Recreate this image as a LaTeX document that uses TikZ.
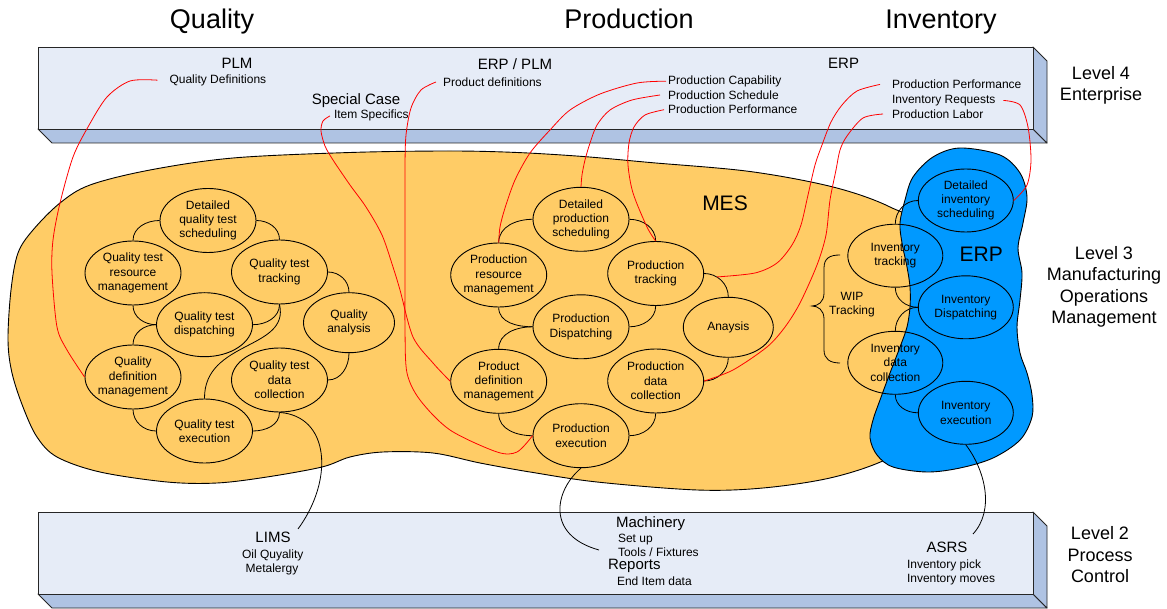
\documentclass[tikz,border=0pt]{standalone}
\usepackage{fontspec}
\setmainfont{Liberation Sans}
\usetikzlibrary{shapes.geometric}
\definecolor{barface}{HTML}{E6ECF7}
\definecolor{barshade}{HTML}{AFC3E3}
\definecolor{mesfill}{HTML}{FFCC66}
\definecolor{erpfill}{HTML}{0099FF}
\definecolor{linkred}{HTML}{FF0000}
\begin{document}
\begin{tikzpicture}[x=1pt,y=-1pt,
  txt/.style={inner sep=0pt, outer sep=0pt},
  headtxt/.style={txt, font=\fontsize{27}{32}\selectfont, anchor=base},
  midtxt/.style={txt, font=\fontsize{15}{18}\selectfont},
  smalltxt/.style={txt, font=\fontsize{12}{14.3}\selectfont},
  lvltxt/.style={txt, font=\fontsize{18}{21.5}\selectfont, align=center},
  bigtxt/.style={txt, font=\fontsize{21}{25}\selectfont, anchor=base},
  taskel/.style={ellipse, draw=black, line width=0.9pt, minimum width=96pt, minimum height=64pt, inner sep=0pt},
  invel/.style={taskel, minimum width=95pt, minimum height=63pt},
  tasktext/.style={txt, font=\fontsize{12}{14.3}\selectfont, align=center},
  tie/.style={draw=black, line width=0.8pt},
  redlink/.style={draw=linkred, line width=0.8pt},
  barfront/.style={fill=barface, draw=black!85, line width=0.9pt},
  barshadow/.style={fill=barshade, draw=black!85, line width=0.9pt, line join=round},
  blob/.style={draw=black, line width=0.9pt}
]
\useasboundingbox (0,0) rectangle (1167,609);

% ---- level bars ----
\draw[barshadow] (38,129) -- (52,143) -- (1047,143) -- (1033,129) -- cycle;
\draw[barshadow] (1033,47) -- (1047,61) -- (1047,143) -- (1033,129) -- cycle;
\draw[barfront] (38,47) rectangle (1033,129);
\draw[barshadow] (38,594) -- (52,608) -- (1047,608) -- (1033,594) -- cycle;
\draw[barshadow] (1033,512) -- (1047,526) -- (1047,608) -- (1033,594) -- cycle;
\draw[barfront] (38,512) rectangle (1033,594);

% ---- column headings ----
\node[headtxt] (hq) at (212,29) {Quality};
\node[headtxt] (hp) at (629,29) {Production};
\node[headtxt] (hi) at (941,29) {Inventory};

% ---- level names ----
\node[lvltxt] (lv4) at (1101,85.4) {Level 4\\Enterprise};
\node[lvltxt] (lv3) at (1104,287) {Level 3\\Manufacturing\\Operations\\Management};
\node[lvltxt] (lv2) at (1100,555) {Level 2\\Process\\Control};

% ---- MES and ERP regions ----
\draw[blob, fill=mesfill] plot[smooth cycle, tension=0.55] coordinates {
  (150,170) (233,158) (350,152.5) (450,151) (517,152.5) (583,156.5) (650,162.5)
  (750,171.5) (833,187) (890,207) (930,235) (945,330) (935,430) (885,460)
  (830,478) (763,488) (697,490) (597,482) (530,472) (480,463) (433,453)
  (383,452) (350,457) (322,467) (267,477) (217,483) (167,482) (100,472)
  (57,457) (37,437) (23,407) (12,373) (8,340) (11,290) (18,253) (33,230)
  (60,203) (90,185)};
\draw[blob, fill=erpfill] plot[smooth cycle, tension=0.55] coordinates {
  (960,148) (1000,155) (1020,173) (1027,197) (1023,223) (1018,248) (1022,273)
  (1020,300) (1017,327) (1020,353) (1027,373) (1032,395) (1032,417) (1020,440)
  (993,458) (960,468) (927,472) (893,467) (877,455) (870,438) (873,420)
  (880,400) (890,373) (900,347) (907,327) (910,307) (910,287) (907,267)
  (902,243) (900,223) (905,200) (913,177) (933,157)};
\node[bigtxt] (mes) at (725,210.8) {MES};
\node[bigtxt] (erp) at (981.3,261.7) {ERP};

% ---- quality functions ----
\node[taskel] (qds) at (208,220.5) {};
\node[tasktext] (qds-t) at (qds.center) {Detailed\\quality test\\scheduling};
\node[taskel] (qrm) at (133,273) {};
\node[tasktext] (qrm-t) at (qrm.center) {Quality test\\resource\\management};
\node[taskel] (qtt) at (279.5,272) {};
\node[tasktext] (qtt-t) at (qtt.center) {Quality test\\tracking};
\node[taskel] (qtd) at (204.5,324.7) {};
\node[tasktext] (qtd-t) at (qtd.center) {Quality test\\dispatching};
\node[taskel, minimum width=91pt, minimum height=60pt] (qan) at (349,322.7) {};
\node[tasktext] (qan-t) at (qan.center) {Quality\\analysis};
\node[taskel] (qdm) at (133,377) {};
\node[tasktext] (qdm-t) at (qdm.center) {Quality\\definition\\management};
\node[taskel] (qdc) at (279.5,380) {};
\node[tasktext] (qdc-t) at (qdc.center) {Quality test\\data\\collection};
\node[taskel] (qte) at (204.5,431) {};
\node[tasktext] (qte-t) at (qte.center) {Quality test\\execution};

% ---- production functions ----
\node[taskel] (pds) at (581,219.3) {};
\node[tasktext] (pds-t) at (pds.center) {Detailed\\production\\scheduling};
\node[taskel] (prm) at (498.7,275) {};
\node[tasktext] (prm-t) at (prm.center) {Production\\resource\\management};
\node[taskel] (ptr) at (655.7,273.5) {};
\node[tasktext] (ptr-t) at (ptr.center) {Production\\tracking};
\node[taskel] (pdi) at (581,326.8) {};
\node[tasktext] (pdi-t) at (pdi.center) {Production\\Dispatching};
\node[taskel, minimum width=90pt, minimum height=60pt] (pan) at (728.3,327.3) {};
\node[tasktext] (pan-t) at (pan.center) {Anaysis};
\node[taskel] (pdm) at (498.7,381.3) {};
\node[tasktext] (pdm-t) at (pdm.center) {Product\\definition\\management};
\node[taskel] (pdc) at (655.7,381) {};
\node[tasktext] (pdc-t) at (pdc.center) {Production\\data\\collection};
\node[taskel] (pex) at (581,435.7) {};
\node[tasktext] (pex-t) at (pex.center) {Production\\execution};

% ---- inventory functions ----
\node[invel] (ids) at (965.8,200.5) {};
\node[tasktext] (ids-t) at (ids.center) {Detailed\\inventory\\scheduling};
\node[invel] (itr) at (895.3,255.7) {};
\node[tasktext] (itr-t) at (itr.center) {Inventory\\tracking};
\node[invel] (idi) at (965.8,307.3) {};
\node[tasktext] (idi-t) at (idi.center) {Inventory\\Dispatching};
\node[invel] (idc) at (895.3,362.8) {};
\node[tasktext] (idc-t) at (idc.center) {Inventory\\data\\collection};
\node[invel] (iex) at (965.8,412.8) {};
\node[tasktext] (iex-t) at (iex.center) {Inventory\\execution};

% WIP tracking brace
\draw[line width=0.8pt] (840,255) .. controls (830,255) and (824,258) .. (824,268) -- (824,293)
  .. controls (824,302) and (818,306) .. (812,306)
  .. controls (818,306) and (824,310) .. (824,319) -- (824,350)
  .. controls (824,359) and (830,363) .. (840,363);
\node[smalltxt, align=center] (wip) at (852,304.5) {WIP\\Tracking};

% ---- level 4 systems ----
\node[midtxt, anchor=base] (plm) at (237,68.4) {PLM};
\node[smalltxt, anchor=base west] (qdefs) at (169.5,83.3) {Quality Definitions};
\node[midtxt, anchor=base] (erpplm) at (515,70) {ERP / PLM};
\node[smalltxt, anchor=base west] (pdefs) at (443,86.3) {Product definitions};
\node[midtxt, anchor=base] (spcase) at (356,105) {Special Case};
\node[smalltxt, anchor=base west] (itspec) at (334,119) {Item Specifics};
\node[midtxt, anchor=base] (erptop) at (843.6,68.3) {ERP};
\node[smalltxt, anchor=base west] (pcap) at (668,84.3) {Production Capability};
\node[smalltxt, anchor=base west] (psched) at (668,99.3) {Production Schedule};
\node[smalltxt, anchor=base west] (pperf) at (668,114) {Production Performance};
\node[smalltxt, anchor=base west] (pperfb) at (892,88.7) {Production Performance};
\node[smalltxt, anchor=base west] (invreq) at (892,103.3) {Inventory Requests};
\node[smalltxt, anchor=base west] (plabor) at (892,118.3) {Production Labor};

% ---- level 2 systems ----
\node[midtxt, anchor=base] (lims) at (273,542.3) {LIMS};
\node[smalltxt, anchor=base] (oilq) at (272.7,558.3) {Oil Quyality};
\node[smalltxt, anchor=base] (metal) at (272,572.7) {Metalergy};
\node[midtxt, anchor=base west] (mach) at (616,527.3) {Machinery};
\node[smalltxt, anchor=base west] (setup) at (618,542) {Set up};
\node[smalltxt, anchor=base west] (tools) at (618,556.7) {Tools / Fixtures};
\node[midtxt, anchor=base west] (reports) at (608,569.3) {Reports};
\node[smalltxt, anchor=base west] (enditem) at (617,585) {End Item data};
\node[midtxt, anchor=base] (asrs) at (947,552.7) {ASRS};
\node[smalltxt, anchor=base west] (invpick) at (907,568.3) {Inventory pick};
\node[smalltxt, anchor=base west] (invmove) at (907,582.7) {Inventory moves};

% free ends of the level 2 links
\coordinate (limsend) at (298,529);
\coordinate (machend) at (599,550);
\coordinate (asrsend) at (973,534);

% ---- links between quality functions ----
\draw[tie] (qds.west) to[out=180,in=90] (qrm.north);
\draw[tie] (qds.east) to[out=0,in=90] (qtt.north);
\draw[tie] (qtt.east) to[out=0,in=90] (qan.north);
\draw[tie] (qrm.south) to[out=-90,in=180] (qtd.west);
\draw[tie] (qtd.west) to[out=180,in=90] (qdm.north);
\draw[tie] (qtt.south) to[out=-90,in=0] (qtd.east);
\draw[tie] (qtt.south) .. controls (290,350) and (204,340) .. (qte.north);
\draw[tie] (qan.south) to[out=-90,in=0] (qdc.east);
\draw[tie] (qdm.south) to[out=-90,in=180] (qte.west);
\draw[tie] (qdc.south) to[out=-90,in=0] (qte.east);
\draw[tie] (qdc.south) .. controls (330,416) and (334,480) .. (limsend);

% ---- links between production functions ----
\draw[tie] (pds.west) to[out=180,in=90] (prm.north);
\draw[tie] (pds.east) to[out=0,in=90] (ptr.north);
\draw[tie] (ptr.east) to[out=0,in=90] coordinate[pos=0.35] (ptrpan) (pan.north);
\draw[tie] (prm.south) to[out=-90,in=180] (pdi.west);
\draw[tie] (pdi.west) to[out=180,in=90] (pdm.north);
\draw[tie] (ptr.south) to[out=-90,in=0] (pdi.east);
\draw[tie] (pan.south) to[out=-90,in=0] (pdc.east);
\draw[tie] (pdm.south) to[out=-90,in=180] (pex.west);
\draw[tie] (pdc.south) to[out=-90,in=0] (pex.east);
\draw[tie] (pex.south) .. controls (555,490) and (545,535) .. (machend);

% ---- links between inventory functions ----
\draw[tie] (ids.west) to[out=180,in=90] (itr.north);
\draw[tie] (itr.south) to[out=-90,in=180] (idi.west);
\draw[tie] (idi.west) to[out=180,in=90] (idc.north);
\draw[tie] (idc.south) to[out=-90,in=180] (iex.west);
\draw[tie] (iex.south) .. controls (985,470) and (995,510) .. (asrsend);

% ---- enterprise information flows ----
\coordinate (r1) at ([xshift=-12pt]qdefs.west);
\coordinate (r2) at ([xshift=-4pt]itspec.west);
\coordinate (r3) at ([xshift=-7pt]pdefs.west);
\coordinate (r4) at ([xshift=-2pt]pcap.west);
\coordinate (r5) at ([xshift=-8pt]psched.west);
\coordinate (r6) at ([xshift=-4pt]pperf.west);
\coordinate (r7) at ([xshift=-12pt]pperfb.west);
\coordinate (r8) at ([xshift=-9pt]plabor.west);
\coordinate (r9) at ([xshift=8pt]invreq.east);

\draw[redlink] plot[smooth] coordinates {(r1) (130,81) (107,97) (88,127) (73,157)
  (60,203) (53,240) (52,273) (57,327) (67,350) (qdm.west)};
\draw[redlink] plot[smooth] coordinates {(r2) (323,121) (321,131) (325,146) (333,160)
  (350,185) (366,207) (382,235) (393,267) (400,290) (413,337) (433,363) (pdm.west)};
\draw[redlink] plot[smooth] coordinates {(r3) (421,90) (411,108) (406,135) (405,165)
  (405,210) (405,270) (405,330) (407,373) (420,400) (450,430) (497,452) (517,452) (pex.west)};
\draw[redlink] plot[smooth] coordinates {(r4) (637,83) (600,94) (570,110) (550,130)
  (530,153) (515,180) (505,208) (500,227) (prm.north)};
\draw[redlink] plot[smooth] coordinates {(r5) (632,100) (610,110) (597,125) (590,143)
  (585,160) (582,175) (pds.north)};
\draw[redlink] plot[smooth] coordinates {(r6) (645,115) (634,127) (629,143) (628,165)
  (633,193) (647,227) (ptr.north)};
\draw[redlink] plot[smooth] coordinates {(r7) (857,91) (842,105) (831,122) (822,145)
  (815,165) (808,195) (801,225) (792,245) (777,263) (755,273) (ptrpan)};
\draw[redlink] plot[smooth] coordinates {(r8) (863,118) (847,136) (840,150) (836,170)
  (830,200) (826,235) (817,265) (800,303) (785,327) (767,347) (733,370) (pdc.east)};
\draw[redlink] plot[smooth] coordinates {(r9) (1020,105) (1028,127) (1031,160)
  (1027,185) (ids.east)};
\end{tikzpicture}
\end{document}
